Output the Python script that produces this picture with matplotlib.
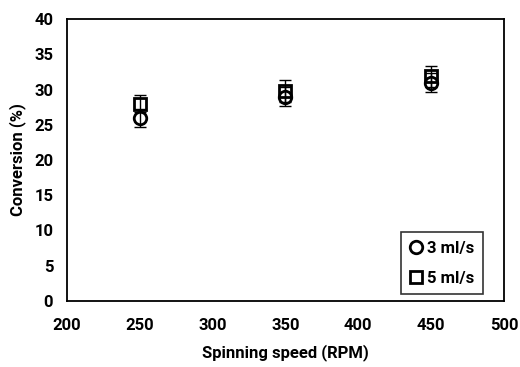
import matplotlib
matplotlib.use("Agg")
import matplotlib.pyplot as plt

plt.rcParams['font.family'] = ['Roboto', 'DejaVu Sans']
plt.rcParams['font.weight'] = 'bold'

speed = [250, 350, 450]
conv_3 = [26.0, 29.0, 31.0]
err_3 = [1.3, 1.3, 1.4]
conv_5 = [28.0, 29.8, 31.9]
err_5 = [1.2, 1.5, 1.5]

fig = plt.figure(figsize=(5.2, 3.67), dpi=100)
ax = fig.add_axes([0.129, 0.18, 0.84, 0.768])

# error bars first, markers on top
ax.errorbar(speed, conv_3, yerr=err_3, fmt='none', ecolor='black',
            elinewidth=1, capsize=4, capthick=1, zorder=2)
ax.errorbar(speed, conv_5, yerr=err_5, fmt='none', ecolor='black',
            elinewidth=1, capsize=4, capthick=1, zorder=2)
ax.plot(speed, conv_3, 'o', mfc='none', mec='black', mew=2, ms=9,
        label='3 ml/s', zorder=3)
ax.plot(speed, conv_5, 's', mfc='none', mec='black', mew=2, ms=9,
        label='5 ml/s', zorder=4)

ax.set_xlim(200, 500)
ax.set_ylim(0, 40)
ax.set_xticks(range(200, 501, 50))
ax.set_yticks(range(0, 41, 5))
ax.set_xticklabels([str(v) for v in range(200, 501, 50)], fontweight='bold', fontsize=12)
ax.set_yticklabels([str(v) for v in range(0, 41, 5)], fontweight='bold', fontsize=12)
ax.tick_params(axis='x', length=0, pad=12)
ax.tick_params(axis='y', length=0, pad=10)
for s in ax.spines.values():
    s.set_linewidth(1.3)

ax.set_xlabel('Spinning speed (RPM)', fontsize=12, fontweight='bold', labelpad=8)
ax.set_ylabel('Conversion (%)', fontsize=12, fontweight='bold', labelpad=6)

leg = ax.legend(loc='lower right', bbox_to_anchor=(0.952, 0.025),
                prop={'size': 12, 'weight': 'bold'},
                frameon=True, fancybox=False, edgecolor='black',
                handlelength=0.8, handletextpad=0.3, borderpad=0.5,
                labelspacing=0.9, borderaxespad=0)
leg.get_frame().set_linewidth(1.2)

fig.savefig('out.png', dpi=100)
